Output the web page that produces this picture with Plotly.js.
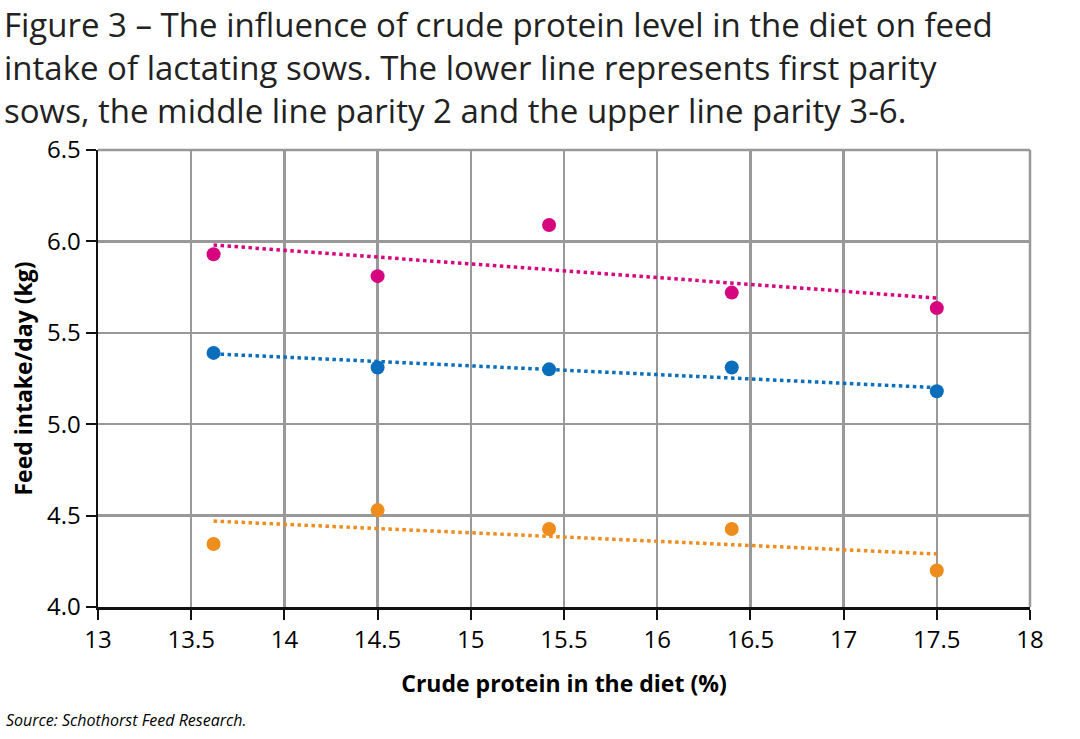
<!DOCTYPE html>
<html>
<head>
<meta charset="utf-8">
<script src="https://cdn.plot.ly/plotly-3.0.1.min.js"></script>
<style>html,body{margin:0;padding:0;background:#fff;}#chart{width:1080px;height:739px;}</style>
</head>
<body>
<div id="chart"></div>
<script>
// Crude protein levels (%)
const protein = [13.62, 14.5, 15.42, 16.4, 17.5];
// Feed intake per day (kg) by parity group
const parity36 = [5.93, 5.81, 6.09, 5.72, 5.635];
const parity2 = [5.39, 5.31, 5.30, 5.31, 5.18];
const parity1 = [4.345, 4.53, 4.427, 4.427, 4.20];
// Linear trend endpoints
const trendX = [13.62, 17.5];
const trend36 = [5.98, 5.69];
const trend2 = [5.385, 5.20];
const trend1 = [4.47, 4.29];
// Title lines
const titleLines = [
  'Figure 3 – The influence of crude protein level in the diet on feed',
  'intake of lactating sows. The lower line represents first parity',
  'sows, the middle line parity 2 and the upper line parity 3-6.'
];
const sourceText = 'Source: Schothorst Feed Research.';

const pink = '#d6067f', blue = '#0a6ebd', orange = '#ee8c1e';

function pts(y, c, name) {
  return {x: protein, y: y, type: 'scatter', mode: 'markers', name: name,
    marker: {color: c, size: 14}, hoverinfo: 'x+y'};
}
function trend(y, c, name) {
  return {x: trendX, y: y, type: 'scatter', mode: 'lines', name: name,
    line: {color: c, width: 3.5, dash: 'dot'}, hoverinfo: 'skip'};
}

const data = [
  trend(trend36, pink, 'Trend parity 3-6'),
  trend(trend2, blue, 'Trend parity 2'),
  trend(trend1, orange, 'Trend parity 1'),
  pts(parity36, pink, 'Parity 3-6'),
  pts(parity2, blue, 'Parity 2'),
  pts(parity1, orange, 'Parity 1')
];

// plot area in pixels
const L = 98, R = 1030, T = 150, B = 607;
const px = x => (x - L) / (R - L);
const py = y => (B - y) / (B - T);

const annotations = [{
  text: titleLines.join('<br>'), xref: 'paper', yref: 'paper', x: px(2), xanchor: 'left',
  y: py(0), yanchor: 'top', align: 'left', showarrow: false,
  font: {family: '"Open Sans", sans-serif', size: 33, color: '#222'}
}, {
  text: '<i>' + sourceText + '</i>', xref: 'paper', yref: 'paper',
  x: px(4), xanchor: 'left', y: py(720), yanchor: 'middle', showarrow: false,
  font: {family: '"Open Sans", sans-serif', size: 16, color: '#000'}
}];

const layout = {
  width: 1080, height: 739,
  paper_bgcolor: '#fff', plot_bgcolor: '#fff',
  showlegend: false,
  font: {family: '"Open Sans", sans-serif', color: '#000'},
  margin: {l: L, r: 1080 - R, t: T, b: 739 - B},
  xaxis: {
    range: [13, 18], dtick: 0.5, tick0: 13,
    showgrid: true, gridcolor: '#999', gridwidth: 2.5,
    showline: true, linecolor: '#111', linewidth: 2.5,
    ticks: 'outside', ticklen: 10, tickwidth: 2, tickcolor: '#111',
    tickfont: {size: 24, color: '#000'},
    zeroline: false,
    title: {text: '<b>Crude protein in the diet (%)</b>', font: {size: 23, color: '#000'}, standoff: 22}
  },
  yaxis: {
    range: [4, 6.5], dtick: 0.5, tick0: 4, tickformat: '.1f',
    showgrid: true, gridcolor: '#999', gridwidth: 2.5,
    showline: true, linecolor: '#111', linewidth: 2.5,
    ticks: 'outside', ticklen: 10, tickwidth: 2, tickcolor: '#111',
    tickfont: {size: 24, color: '#000'},
    zeroline: false,
    title: {text: '<b>Feed intake/day (kg)</b>', font: {size: 23, color: '#000'}, standoff: 8}
  },
  shapes: [
    {type: 'line', xref: 'paper', yref: 'paper', x0: 1, x1: 1, y0: 0, y1: 1, line: {color: '#999', width: 2.5}},
    {type: 'line', xref: 'paper', yref: 'paper', x0: 0, x1: 1, y0: 1, y1: 1, line: {color: '#999', width: 2.5}}
  ],
  annotations: annotations
};

Plotly.newPlot('chart', data, layout, {displayModeBar: false, staticPlot: true});
</script>
</body>
</html>
